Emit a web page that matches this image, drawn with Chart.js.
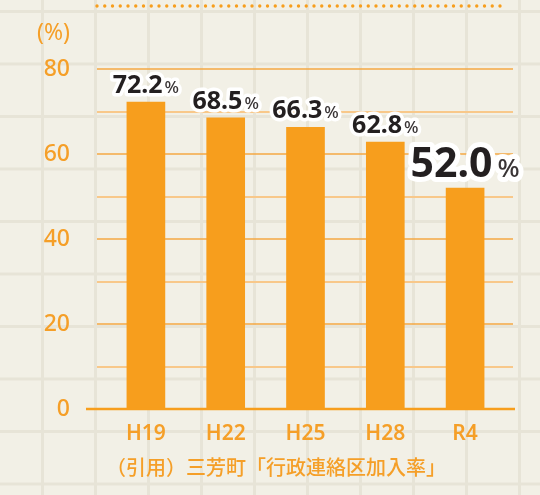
<!DOCTYPE html>
<html lang="ja">
<head>
<meta charset="utf-8">
<script src="https://cdn.jsdelivr.net/npm/chart.js@4.4.1/dist/chart.umd.min.js"></script>
<style>
  html, body { margin: 0; padding: 0; }
  body {
    width: 540px;
    height: 495px;
    overflow: hidden;
    background-color: #f2f0e6;
    background-image:
      linear-gradient(to right, #e7e4d7 3px, transparent 3px),
      linear-gradient(to bottom, #e7e4d7 3px, transparent 3px);
    background-size: 53px 52.5px;
    background-position: 41px 10px;
  }
</style>
</head>
<body>
<canvas id="rateChart" width="540" height="495"></canvas>
<script>
// 行政連絡区加入率 (%)
const years = ["H19", "H22", "H25", "H28", "R4"];
const joinRate = [72.2, 68.5, 66.3, 62.8, 52.0];
const yTicks = [0, 20, 40, 60, 80];
const unitLabel = "(%)";
const sourceNote = "（引用）三芳町「行政連絡区加入率」";
const latestIndex = joinRate.length - 1; // latest year gets the big label

const barOrange = "#f79e1d";
const textOrange = "#f59f28";

// lines, dotted rule, unit label and value labels
const decor = {
    id: "decor",
    beforeDatasetsDraw(chart) {
        const { ctx, scales: { y } } = chart;
        ctx.save();

        // dotted rule at the very top
        ctx.strokeStyle = barOrange;
        ctx.lineWidth = 3.4;
        ctx.lineCap = "round";
        ctx.setLineDash([0, 7.75]);
        ctx.beginPath();
        ctx.moveTo(97, 6);
        ctx.lineTo(505, 6);
        ctx.stroke();
        ctx.setLineDash([]);
        ctx.lineCap = "butt";

        // horizontal lines every 10, labelled ones a bit stronger
        y.ticks.forEach((t) => {
            if (t.value === 0) return;
            const py = Math.round(y.getPixelForValue(t.value));
            const major = yTicks.includes(t.value);
            ctx.strokeStyle = major ? "#f4a843" : "#f8c88a";
            ctx.lineWidth = major ? 1.5 : 2;
            ctx.beginPath();
            ctx.moveTo(97, py);
            ctx.lineTo(513, py);
            ctx.stroke();
        });

        // unit label
        ctx.fillStyle = textOrange;
        ctx.font = "23px 'Noto Sans'";
        ctx.textAlign = "right";
        ctx.textBaseline = "middle";
        ctx.fillText(unitLabel, 70, 33);
        ctx.restore();
    },
    afterDatasetsDraw(chart) {
        const { ctx, scales: { y } } = chart;
        ctx.save();

        // base line
        const py0 = y.getPixelForValue(0);
        ctx.strokeStyle = barOrange;
        ctx.lineWidth = 2.5;
        ctx.beginPath();
        ctx.moveTo(86, py0);
        ctx.lineTo(515, py0);
        ctx.stroke();

        // value labels with white outline
        const meta = chart.getDatasetMeta(0);
        meta.data.forEach((bar, i) => {
            const big = i === latestIndex;
            const numFont = big ? "700 41px 'Noto Sans'" : "700 25px 'Noto Sans'";
            const pctFont = big ? "500 26px 'Noto Sans'" : "500 17px 'Noto Sans'";
            const num = joinRate[i].toFixed(1);
            const gap = big ? 5 : 2;

            ctx.font = numFont;
            const wn = ctx.measureText(num).width;
            ctx.font = pctFont;
            const wp = ctx.measureText("%").width;

            const x0 = bar.x - (wn + gap + wp) / 2;
            const baseY = bar.y - (big ? 11 : 9);

            ctx.textAlign = "left";
            ctx.textBaseline = "alphabetic";
            ctx.lineJoin = "round";
            ctx.strokeStyle = "#ffffff";
            ctx.lineWidth = big ? 10 : 7;
            ctx.font = numFont;
            ctx.strokeText(num, x0, baseY);
            ctx.font = pctFont;
            ctx.strokeText("%", x0 + wn + gap, baseY);

            ctx.fillStyle = "#231f20";
            ctx.font = numFont;
            ctx.fillText(num, x0, baseY);
            ctx.fillStyle = "#3a3536";
            ctx.font = pctFont;
            ctx.fillText("%", x0 + wn + gap, baseY);
        });
        ctx.restore();
    },
};

const rateChart = new Chart(document.getElementById("rateChart"), {
    type: "bar",
    data: {
        labels: years,
        datasets: [
            {
                data: joinRate,
                backgroundColor: barOrange,
                borderWidth: 0,
                barThickness: 38,
            },
        ],
    },
    options: {
        responsive: false,
        animation: false,
        layout: { padding: { top: 69, right: 35, left: 0, bottom: 0 } },
        plugins: {
            legend: { display: false },
            tooltip: { enabled: false },
        },
        scales: {
            x: {
                grid: { display: false, drawTicks: false },
                border: { display: false },
                ticks: {
                    color: textOrange,
                    font: { family: "'Noto Sans'", size: 21, weight: "600" },
                    padding: 12,
                },
                title: {
                    display: true,
                    text: sourceNote,
                    align: "start",
                    color: textOrange,
                    font: { family: "'Noto Sans CJK JP'", size: 20, weight: "500" },
                    padding: { top: 0, bottom: 16 },
                },
                afterFit(scale) {
                    scale.height = 86;
                },
            },
            y: {
                min: 0,
                max: 80,
                grid: { display: false, drawTicks: false },
                border: { display: false },
                ticks: {
                    stepSize: 10,
                    autoSkip: false,
                    color: textOrange,
                    font: { family: "'Noto Sans'", size: 23, weight: "500" },
                    padding: 36,
                    callback: (v) => (yTicks.includes(v) ? v : ""),
                },
                afterFit(scale) {
                    scale.width = 106;
                },
            },
        },
    },
    plugins: [decor],
});
</script>
</body>
</html>
